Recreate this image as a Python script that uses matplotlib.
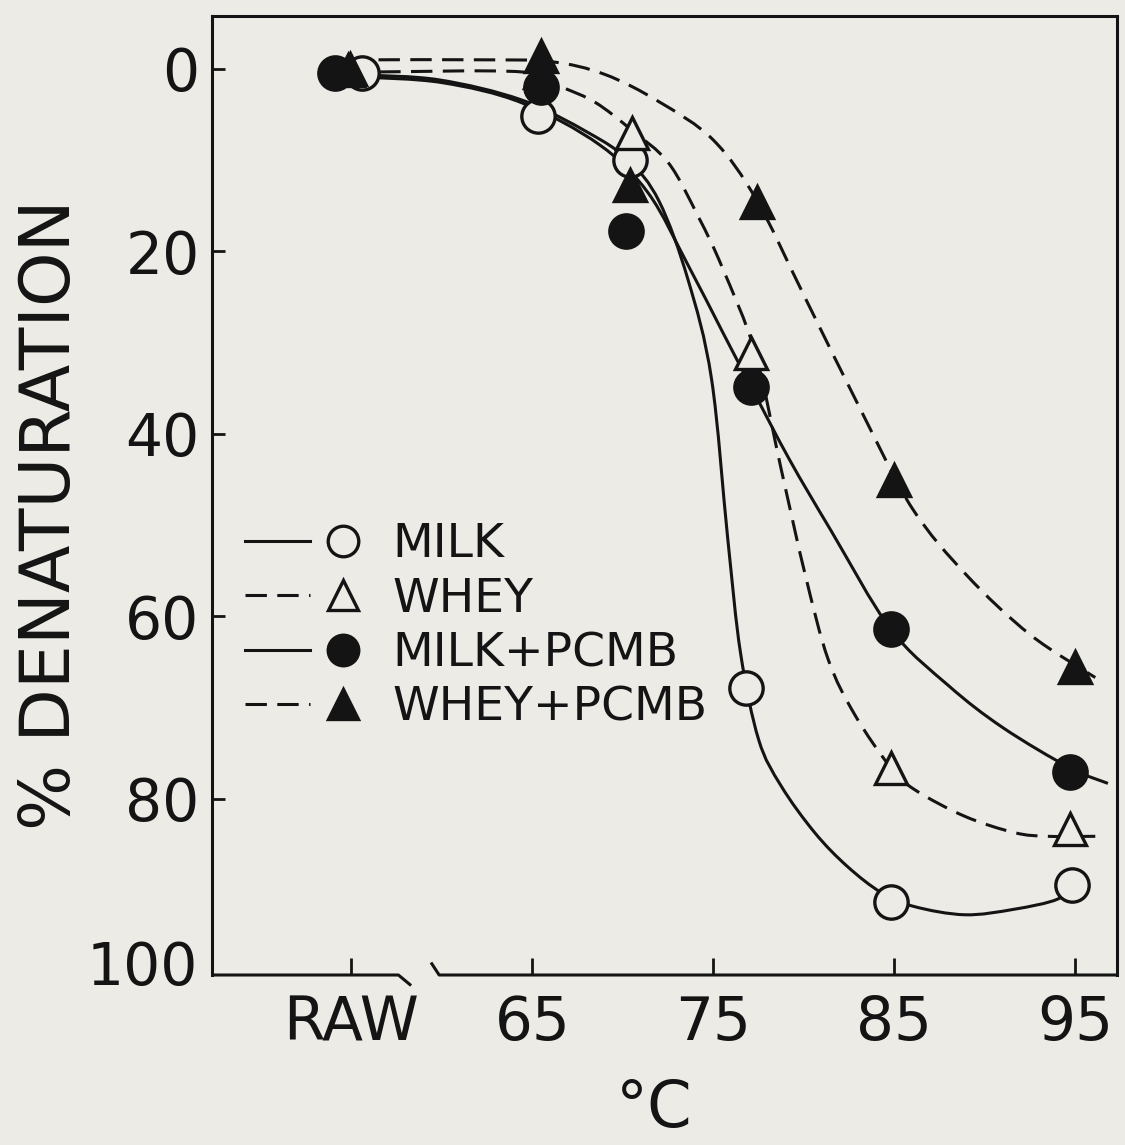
import numpy as np
import matplotlib
matplotlib.use('Agg')
import matplotlib.pyplot as plt
from matplotlib.path import Path
from matplotlib.patches import PathPatch
from matplotlib.lines import Line2D
from matplotlib.legend_handler import HandlerTuple
import matplotlib.transforms as mtransforms

# ---------------- data ----------------
series_names = ['MILK', 'WHEY', 'MILK+PCMB', 'WHEY+PCMB']
x_tick_positions = [55, 65, 75, 85, 95]
x_tick_labels = ['RAW', '65', '75', '85', '95']
y_ticks = [0, 20, 40, 60, 80]
y_tick_labels = ['0', '20', '40', '60', '80']
y_bottom_label = '100'

milk_x = [55.6, 65.3, 70.4, 76.8, 84.8, 94.8]
milk_y = [0.4, 5.2, 10.0, 67.8, 91.3, 89.4]
whey_x = [54.8, 65.4, 70.5, 77.1, 84.8, 94.7]
whey_y = [0.1, 0.3, 7.0, 31.1, 76.6, 83.3]
milk_pcmb_x = [54.1, 65.5, 70.2, 77.1, 84.8, 94.7]
milk_pcmb_y = [0.4, 2.0, 17.8, 34.9, 61.4, 77.0]
whey_pcmb_x = [54.9, 65.5, 70.4, 77.4, 85.0, 95.0]
whey_pcmb_y = [0.0, -1.4, 12.7, 14.6, 45.0, 65.5]

# hand-drawn fitted curves
milk_curve_x = [55.7, 59.85, 64.4, 68.1, 70.3, 72.0, 73.6, 74.9, 75.8, 76.5, 77.5,
                78.75, 80.6, 82.4, 84.3, 86.1, 88.9, 91.6, 94.0, 94.8]
milk_curve_y = [0.66, 1.2, 3.4, 7.0, 10.0, 14.5, 23.1, 34.0, 51.6, 64.0, 73.5,
                78.6, 83.7, 87.4, 90.3, 91.8, 92.7, 92.1, 91.0, 89.4]
whey_curve_x = [56.54, 64.42, 66.63, 68.5, 70.48, 72.52, 74.17, 75.5, 77.31, 78.75,
                80.07, 81.34, 82.82, 84.81, 86.13, 88.88, 91.64, 93.46, 96.1]
whey_curve_y = [0.33, 0.33, 2.0, 3.7, 6.7, 10.3, 16.2, 21.8, 31.1, 43.9,
                55.4, 64.7, 70.8, 76.6, 79.0, 81.9, 83.7, 84.1, 84.1]
milk_pcmb_curve_x = [55.7, 60.0, 64.4, 68.7, 71.4, 73.6, 75.5, 77.1, 79.2, 81.5,
                     84.8, 88.0, 91.0, 94.7, 96.8]
milk_pcmb_curve_y = [0.9, 1.5, 3.7, 8.3, 13.6, 21.5, 28.8, 34.9, 42.8, 50.6,
                     61.4, 67.6, 72.2, 76.6, 78.3]
whey_pcmb_curve_x = [56.5, 62.0, 66.0, 69.0, 72.0, 75.0, 77.4, 80.0, 83.4, 86.0,
                     89.0, 92.5, 96.1]
whey_pcmb_curve_y = [-1.0, -1.0, -0.8, 0.6, 3.6, 7.8, 14.4, 24.8, 38.4, 48.2,
                     55.5, 62.0, 66.7]

# ---------------- style ----------------
BG = '#ecebe6'
INK = '#141414'
LW = 2.2
DASH = (0, (7, 3.4))
FONT = ['DejaVu Sans']

plt.rcParams['font.family'] = FONT

fig = plt.figure(figsize=(11.25, 11.45), dpi=100, facecolor=BG)
ax = fig.add_axes([212 / 1125, 1 - 975 / 1145, (1117 - 212) / 1125, (975 - 16) / 1145])
ax.set_facecolor(BG)

ax.set_xlim(47.3, 97.3)
ax.set_ylim(99.3, -5.8)


def smooth_path(xs, ys):
    pts = np.column_stack([xs, ys]).astype(float)
    n = len(pts)
    ext = np.vstack([pts[0], pts, pts[-1]])
    verts = [pts[0]]
    codes = [Path.MOVETO]
    for i in range(n - 1):
        p0, p1, p2, p3 = ext[i], ext[i + 1], ext[i + 2], ext[i + 3]
        c1 = p1 + (p2 - p0) / 6.0
        c2 = p2 - (p3 - p1) / 6.0
        verts += [c1, c2, p2]
        codes += [Path.CURVE4, Path.CURVE4, Path.CURVE4]
    return Path(verts, codes)


curves = [
    (milk_curve_x, milk_curve_y, '-'),
    (whey_curve_x, whey_curve_y, DASH),
    (milk_pcmb_curve_x, milk_pcmb_curve_y, '-'),
    (whey_pcmb_curve_x, whey_pcmb_curve_y, DASH),
]
for cx, cy, ls in curves:
    patch = PathPatch(smooth_path(cx, cy), fill=False, edgecolor=INK, lw=LW,
                      linestyle=ls, capstyle='butt', joinstyle='round', zorder=2)
    ax.add_patch(patch)

marker_specs = [
    (milk_x, milk_y, 'o', BG, 24),
    (whey_x, whey_y, '^', BG, 23),
    (milk_pcmb_x, milk_pcmb_y, 'o', INK, 24),
    (whey_pcmb_x, whey_pcmb_y, '^', INK, 23),
]
for mx, my, m, fc, ms in marker_specs:
    ax.plot(mx, my, ls='none', marker=m, ms=ms, mfc=fc, mec=INK, mew=2.4, zorder=3)

# ---------------- axes frame with break ----------------
for side in ['left', 'right', 'top']:
    ax.spines[side].set_linewidth(2.2)
    ax.spines[side].set_color(INK)
ax.spines['bottom'].set_visible(False)

trans = mtransforms.blended_transform_factory(ax.transData, ax.transAxes)
ax.plot([47.3, 57.6, 58.3], [0, 0, -0.011], color=INK, lw=2.2, transform=trans,
        clip_on=False, solid_capstyle='butt', zorder=4)
ax.plot([59.4, 59.85, 97.3], [0.013, 0, 0], color=INK, lw=2.2, transform=trans,
        clip_on=False, solid_capstyle='butt', zorder=4)

ax.set_xticks(x_tick_positions)
ax.set_xticklabels(x_tick_labels)
ax.set_yticks(y_ticks)
ax.set_yticklabels(y_tick_labels)
ax.tick_params(axis='x', direction='in', length=12, width=2.0, color=INK,
               labelsize=43, pad=14, labelcolor=INK)
ax.tick_params(axis='y', direction='in', length=9, width=2.0, color=INK,
               labelsize=42, pad=9, labelcolor=INK)
ytrans = mtransforms.blended_transform_factory(ax.transAxes, ax.transData)
ax.text(-0.0155, 98.6, y_bottom_label, transform=ytrans,
        ha='right', va='center', fontsize=42, color=INK)

ax.set_ylabel('% DENATURATION', fontsize=50, color=INK)
ax.yaxis.set_label_coords(-0.141, 0.48)
ax.set_xlabel('°C', fontsize=46, color=INK)
ax.xaxis.set_label_coords(0.489, -0.107)

# ---------------- legend ----------------
handles = []
styles = [('-', 'o', BG), (DASH, '^', BG), ('-', 'o', INK), (DASH, '^', INK)]
for ls, m, fc in styles:
    line = Line2D([], [], color=INK, lw=LW, linestyle=ls)
    mark = Line2D([], [], ls='none', marker=m, ms=22, mfc=fc, mec=INK, mew=2.4)
    handles.append((line, mark))
leg = ax.legend(handles, series_names, handler_map={tuple: HandlerTuple(ndivide=None, pad=0.0)},
                loc='upper left', bbox_to_anchor=(0.036, 0.472), frameon=False,
                fontsize=34, handlelength=2.77, handletextpad=0.36, labelspacing=0.2,
                borderpad=0.0, borderaxespad=0.0)
for t in leg.get_texts():
    t.set_color(INK)

fig.savefig('out.png', dpi=100, facecolor=BG)
